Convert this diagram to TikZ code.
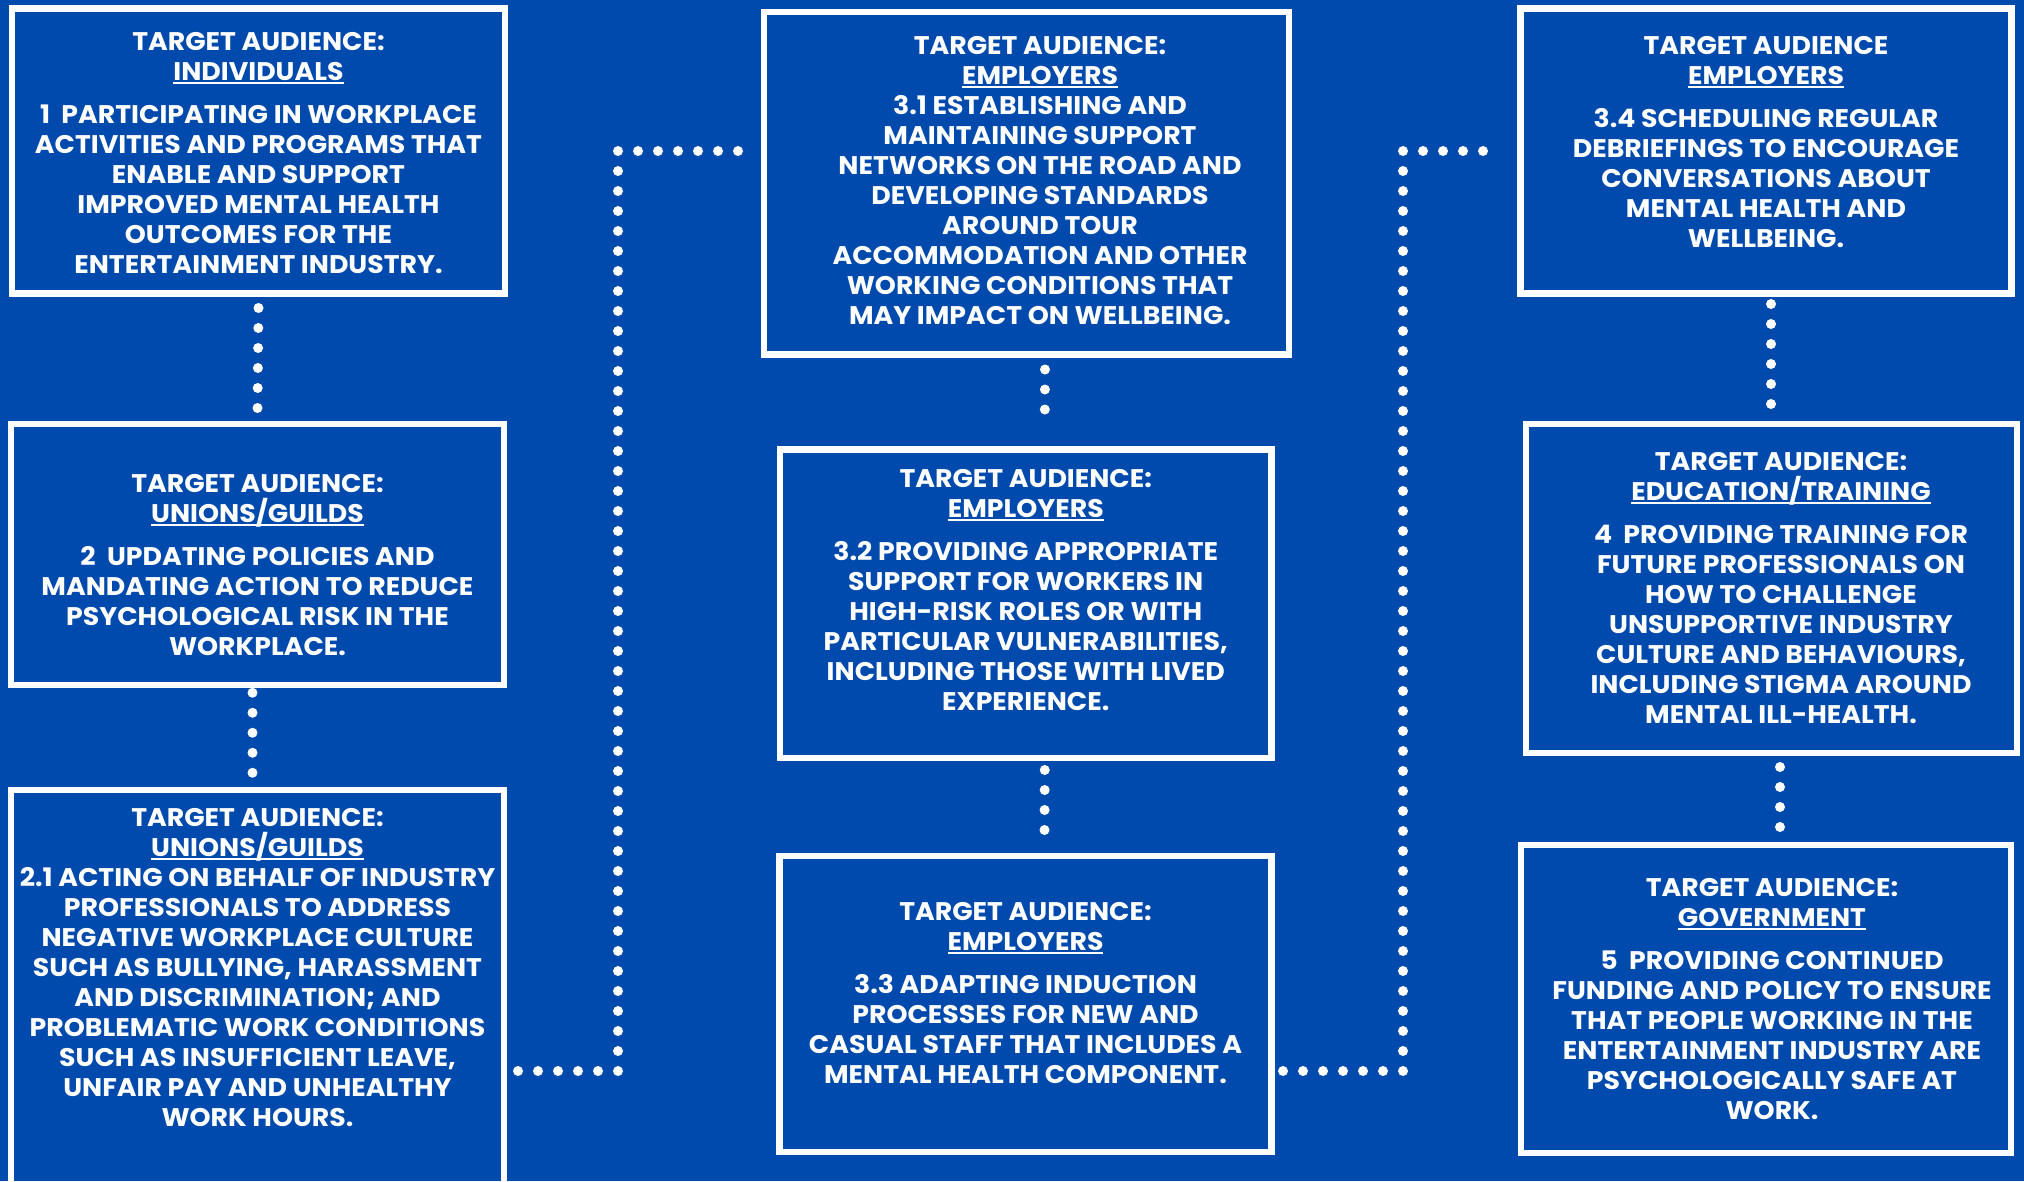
\documentclass[tikz,border=0pt]{standalone}
\usepackage{fontspec}
\setmainfont{Poppins}[FakeStretch=1.05]
\usepackage{tikz}
\usetikzlibrary{positioning,calc}
\definecolor{bgblue}{HTML}{004AAD}
\tikzset{
  goalbox/.style={rectangle, draw=white, line width=6.5pt, inner sep=0pt},
  goaltext/.style={text=white, align=center, inner sep=0pt, anchor=north,
                   font=\bfseries\fontsize{25.5}{30}\selectfont},
  dotline/.style={draw=white, line width=10pt, line cap=round, dash pattern=on 0pt off 20pt},
}
\newcommand{\audline}[1]{\setbox0\hbox{#1}\rlap{\rule[-4pt]{\wd0}{2pt}}\box0}

\begin{document}
\begin{tikzpicture}[x=1pt,y=-1pt]
  \clip (0,0) rectangle (2024,1181);
  \fill[bgblue] (0,0) rectangle (2024,1181);

  % left column
  \node[goalbox, minimum width=493pt, minimum height=285pt] (ind) at (258.5,151) {};
  \node[goalbox, minimum width=493pt, minimum height=261pt] (ung) at (257.5,554.5) {};
  \node[goalbox, minimum width=493pt, minimum height=420pt] (unb) at (257.5,1000) {};
  \node[goaltext] (indtxt) at (258.5,32) {TARGET AUDIENCE:\\ \audline{INDIVIDUALS}\\[13pt]
    1\ \ PARTICIPATING IN WORKPLACE\\ ACTIVITIES AND PROGRAMS THAT\\ ENABLE AND SUPPORT\\
    IMPROVED MENTAL HEALTH\\ OUTCOMES FOR THE\\ ENTERTAINMENT INDUSTRY.};
  \node[goaltext] (ungtxt) at (257.5,474) {TARGET AUDIENCE:\\ \audline{UNIONS/GUILDS}\\[13pt]
    2\ \ UPDATING POLICIES AND\\ MANDATING ACTION TO REDUCE\\ PSYCHOLOGICAL RISK IN THE\\ WORKPLACE.};
  \node[goaltext] (unbtxt) at (257.5,808) {TARGET AUDIENCE:\\ \audline{UNIONS/GUILDS}\\
    2.1 ACTING ON BEHALF OF INDUSTRY\\ PROFESSIONALS TO ADDRESS\\ NEGATIVE WORKPLACE CULTURE\\
    SUCH AS BULLYING, HARASSMENT\\ AND DISCRIMINATION; AND\\ PROBLEMATIC WORK CONDITIONS\\
    SUCH AS INSUFFICIENT LEAVE,\\ UNFAIR PAY AND UNHEALTHY\\ WORK HOURS.};

  % middle column
  \node[goalbox, minimum width=525pt, minimum height=342.5pt] (emA) at (1026.5,183) {};
  \node[goalbox, minimum width=491.5pt, minimum height=308.5pt] (emB) at (1025.75,603.75) {};
  \node[goalbox, minimum width=492pt, minimum height=296pt] (emC) at (1025.5,1004) {};
  \node[goaltext] (emAtxt) at (1040,36) {TARGET AUDIENCE:\\ \audline{EMPLOYERS}\\
    3.1 ESTABLISHING AND\\ MAINTAINING SUPPORT\\ NETWORKS ON THE ROAD AND\\ DEVELOPING STANDARDS\\
    AROUND TOUR\\ ACCOMMODATION AND OTHER\\ WORKING CONDITIONS THAT\\ MAY IMPACT ON WELLBEING.};
  \node[goaltext] (emBtxt) at (1025.75,469) {TARGET AUDIENCE:\\ \audline{EMPLOYERS}\\[13pt]
    3.2 PROVIDING APPROPRIATE\\ SUPPORT FOR WORKERS IN\\ HIGH-RISK ROLES OR WITH\\
    PARTICULAR VULNERABILITIES,\\ INCLUDING THOSE WITH LIVED\\ EXPERIENCE.};
  \node[goaltext] (emCtxt) at (1025.5,902) {TARGET AUDIENCE:\\ \audline{EMPLOYERS}\\[13pt]
    3.3 ADAPTING INDUCTION\\ PROCESSES FOR NEW AND\\ CASUAL STAFF THAT INCLUDES A\\ MENTAL HEALTH COMPONENT.};

  % right column
  \node[goalbox, minimum width=491pt, minimum height=285pt] (emD) at (1766,151) {};
  \node[goalbox, minimum width=491pt, minimum height=329pt] (edu) at (1771.5,588.5) {};
  \node[goalbox, minimum width=490pt, minimum height=308pt] (gov) at (1766,999) {};
  \node[goaltext] (emDtxt) at (1766,36) {TARGET AUDIENCE\\ \audline{EMPLOYERS}\\[13pt]
    3.4 SCHEDULING REGULAR\\ DEBRIEFINGS TO ENCOURAGE\\ CONVERSATIONS ABOUT\\ MENTAL HEALTH AND\\ WELLBEING.};
  \node[goaltext] (edutxt) at (1781,452) {TARGET AUDIENCE:\\ \audline{EDUCATION/TRAINING}\\[13pt]
    4\ \ PROVIDING TRAINING FOR\\ FUTURE PROFESSIONALS ON\\ HOW TO CHALLENGE\\ UNSUPPORTIVE INDUSTRY\\
    CULTURE AND BEHAVIOURS,\\ INCLUDING STIGMA AROUND\\ MENTAL ILL-HEALTH.};
  \node[goaltext] (govtxt) at (1772,878) {TARGET AUDIENCE:\\ \audline{GOVERNMENT}\\[13pt]
    5\ \ PROVIDING CONTINUED\\ FUNDING AND POLICY TO ENSURE\\ THAT PEOPLE WORKING IN THE\\
    ENTERTAINMENT INDUSTRY ARE\\ PSYCHOLOGICALLY SAFE AT\\ WORK.};

  % dotted links
  \coordinate (ltop) at (618,151);
  \coordinate (lbot) at (618,1071);
  \coordinate (rtop) at (1403,151);
  \coordinate (rbot) at (1403,1071);
  \draw[dotline] ([yshift=-11.25pt]ind.south) -- ([yshift=11pt]ung.north);
  \draw[dotline] ([xshift=-5pt,yshift=-4.5pt]ung.south) -- ([xshift=-5pt,yshift=11pt]unb.north);
  \draw[dotline] ([xshift=18.5pt,yshift=-12pt]emA.south) -- ([xshift=19pt,yshift=17pt]emB.north);
  \draw[dotline] ([xshift=19pt,yshift=-8.75pt]emB.south) -- ([xshift=19pt,yshift=20pt]emC.north);
  \draw[dotline] ([xshift=5pt,yshift=-7.25pt]emD.south) -- ([xshift=-0.5pt,yshift=15pt]edu.north);
  \draw[dotline] ([xshift=8.5pt,yshift=-10.75pt]edu.south) -- ([xshift=14pt,yshift=14pt]gov.north);
  \draw[dotline] ([xshift=-22.75pt]emA.west |- ltop) -- (ltop) -- (lbot) -- ([xshift=10pt]unb.east |- lbot);
  \draw[dotline] ([xshift=-34.25pt]emD.west |- rtop) -- (rtop) -- (rbot) -- ([xshift=8pt]emC.east |- rbot);
\end{tikzpicture}
\end{document}
